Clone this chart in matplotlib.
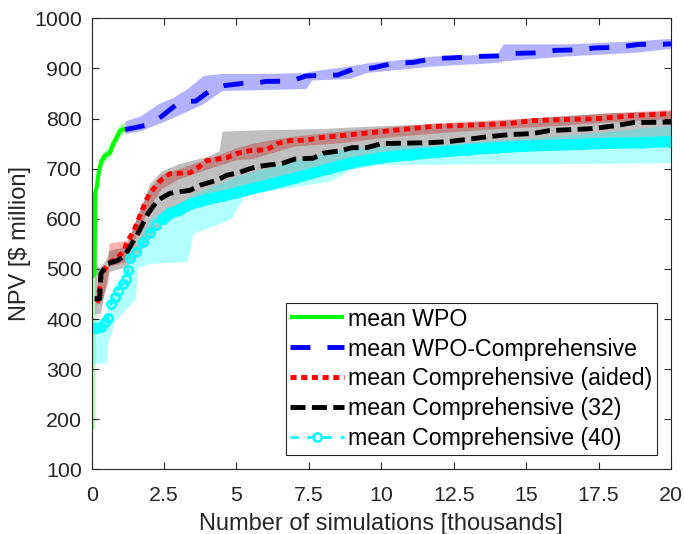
import matplotlib
matplotlib.use("Agg")
import matplotlib.pyplot as plt
import numpy as np

plt.rcParams['font.family'] = ['Liberation Sans', 'DejaVu Sans']
TXT = '#262626'

# ---- mean WPO ----
wpo_x = [0.00, 0.10, 0.12, 0.17, 0.25, 0.34, 0.46, 0.63, 0.74, 0.86, 0.98, 1.15]
wpo_mean = [483, 490, 650, 662, 695, 716, 726, 732, 750, 762, 776, 780]
wpo_lo = [180, 180, 635, 650, 680, 703, 715, 722, 738, 750, 765, 772]
wpo_hi = [500, 505, 665, 675, 708, 728, 738, 745, 760, 775, 790, 792]

# ---- mean WPO-Comprehensive ----
wc_x = [1.15, 1.5, 1.9, 2.2, 2.45, 2.75, 3.05, 3.6, 3.9, 4.2, 4.6, 5.2, 5.6, 6.0,
        6.9, 7.4, 8.5, 9.0, 9.7, 10.4, 11.1, 11.8, 12.4, 13.3, 14.0, 14.6, 15.3,
        16.0, 16.7, 17.4, 18.1, 18.9, 19.6, 20.0]
wc_mean = [778, 782, 787, 795, 806, 820, 833, 835, 848, 860, 866, 870, 870, 874,
           875, 885, 887, 898, 901, 910, 912, 920, 921, 924, 925, 930, 931,
           936, 937, 941, 942, 948, 948, 949]
wc_band_x = [1.15, 1.7, 2.3, 2.8, 3.3, 3.85, 4.5, 6.0, 7.4, 7.6, 8.9, 9.5, 11.8,
             14.0, 14.2, 16.4, 18.7, 20.0]
wc_lo = [770, 776, 790, 802, 815, 830, 856, 858, 860, 877, 880, 892, 905,
         912, 915, 925, 932, 940]
wc_hi = [795, 806, 830, 842, 860, 886, 890, 890, 892, 895, 905, 911, 925,
         929, 949, 949, 955, 960]

# ---- mean Comprehensive (aided) ----
ca_x = [0.15, 0.22, 0.32, 0.45, 0.56, 0.9, 1.1, 1.25, 1.45, 1.6, 1.88, 2.0, 2.36,
        2.7, 3.4, 3.67, 3.97, 4.67, 5.0, 5.46, 6.05, 6.4, 6.85, 7.4, 7.9, 8.6,
        10.0, 11.7, 14.4, 15.2, 17.5, 18.7, 20.0]
ca_mean = [440, 437, 483, 500, 511, 523, 535, 557, 575, 597, 637, 650, 676,
           690, 692, 702, 716, 722, 730, 736, 738, 750, 756, 757, 762, 766,
           774, 784, 790, 796, 800, 806, 810]
ca_band_x = [0.15, 0.3, 0.55, 0.6, 1.2, 1.3, 1.6, 2.0, 2.4, 3.0, 4.0, 5.0, 5.5,
             6.4, 7.0, 8.6, 10.0, 12.0, 14.0, 16.0, 18.0, 20.0]
ca_lo = [430, 432, 470, 505, 515, 535, 575, 625, 660, 680, 700, 718, 720,
         735, 745, 752, 762, 772, 780, 786, 794, 800]
ca_hi = [455, 500, 505, 552, 557, 565, 610, 660, 688, 700, 720, 742, 750,
         760, 765, 775, 782, 792, 798, 804, 812, 818]

# ---- mean Comprehensive (32) ----
c32_x = [0.1, 0.28, 0.32, 0.56, 0.9, 1.15, 1.6, 1.95, 2.28, 2.7, 3.4, 3.74, 4.32,
         4.67, 5.12, 5.46, 5.8, 6.6, 7.0, 7.65, 8.0, 8.6, 9.0, 9.5, 10.0, 11.7,
         12.3, 12.9, 13.7, 14.4, 15.2, 15.8, 17.3, 18.1, 18.7, 20.0]
c32_mean = [441, 441, 491, 511, 517, 527, 571, 611, 637, 651, 657, 667, 677,
            687, 693, 700, 705, 711, 719, 721, 731, 736, 742, 742, 750, 752,
            754, 758, 764, 768, 770, 776, 780, 786, 792, 793]
c32_band_x = [0.1, 0.3, 0.5, 0.6, 1.2, 1.6, 2.0, 2.4, 3.0, 4.0, 4.4, 4.5, 6.0,
              8.0, 8.5, 10.0, 12.0, 14.0, 16.0, 18.0, 20.0]
c32_lo = [410, 412, 470, 495, 505, 530, 560, 590, 610, 630, 640, 650, 670,
          690, 705, 718, 728, 738, 748, 758, 765]
c32_hi = [503, 505, 520, 537, 545, 610, 670, 695, 710, 725, 735, 775, 778,
          780, 782, 786, 790, 796, 805, 812, 815]

# ---- mean Comprehensive (40) ----
c40_x = [0.0, 0.1, 0.2, 0.32, 0.45, 0.56, 0.67, 0.8, 0.9, 1.08, 1.2, 1.25, 1.32,
         1.53, 1.77, 2.0, 2.23, 2.46, 2.7, 3.0, 3.4, 4.0, 4.5, 5.0, 5.9, 7.0,
         8.2, 9.0, 10.0, 11.0, 12.0, 13.0, 14.0, 15.0, 16.0, 17.0, 18.0, 19.0, 20.0]
c40_mean = [383, 383, 383, 384, 395, 403, 431, 445, 457, 471, 480, 497, 521,
            533, 553, 571, 587, 600, 611, 617, 629, 639, 645, 652, 665, 681,
            700, 712, 722, 728, 733, 738, 742, 745, 747, 749, 751, 752, 754]
c40_band_x = [0.0, 0.5, 0.55, 0.8, 1.15, 1.5, 1.6, 2.0, 3.3, 3.5, 4.8, 5.3,
              8.2, 9.0, 10.0, 12.0, 14.0, 16.0, 18.0, 20.0]
c40_lo = [312, 312, 350, 397, 417, 440, 503, 511, 515, 571, 600, 649,
          675, 700, 709, 709, 710, 710, 711, 712]
c40_hi = [400, 400, 420, 470, 495, 545, 555, 600, 640, 650, 680, 690,
          735, 742, 745, 748, 758, 765, 775, 787]

labels = ['mean WPO', 'mean WPO-Comprehensive', 'mean Comprehensive (aided)',
          'mean Comprehensive (32)', 'mean Comprehensive (40)']
x_ticks = [0, 2.5, 5, 7.5, 10, 12.5, 15, 17.5, 20]
x_ticklabels = ['0', '2.5', '5', '7.5', '10', '12.5', '15', '17.5', '20']
y_ticks = list(range(100, 1001, 100))

fig = plt.figure(figsize=(6.84, 5.34), dpi=100)
ax = fig.add_axes([0.134, 0.1208, 0.847, 0.8449])

LW = 3.5
handles = []

# green
h, = ax.plot(wpo_x, wpo_mean, color=(0, 1, 0), lw=3, solid_capstyle='butt')
ax.fill_between(wpo_x, wpo_lo, wpo_hi, color=(0, 1, 0), alpha=0.3, lw=0)
handles.append(h)

# blue
h, = ax.plot(wc_x, wc_mean, color=(0, 0, 1), lw=LW, linestyle=(0, (4.1, 3.5)),
             dash_capstyle='butt')
ax.fill_between(wc_band_x, wc_lo, wc_hi, color=(0, 0, 1), alpha=0.3, lw=0)
handles.append(h)

# red
h, = ax.plot(ca_x, ca_mean, color=(1, 0, 0), lw=LW, linestyle=(0, (1.25, 0.95)),
             dash_capstyle='butt')
ax.fill_between(ca_band_x, ca_lo, ca_hi, color=(1, 0, 0), alpha=0.3, lw=0)
handles.append(h)

# black
h, = ax.plot(c32_x, c32_mean, color=(0, 0, 0), lw=LW, linestyle=(0, (3.1, 1.3)),
             dash_capstyle='butt')
ax.fill_between(c32_band_x, c32_lo, c32_hi, color=(0, 0, 0), alpha=0.25, lw=0)
handles.append(h)

# cyan: dense circle markers merge into a thick stroke once the curve flattens
c40_x_arr = np.asarray(c40_x)
c40_y_arr = np.asarray(c40_mean)
flat = c40_x_arr >= 2.46
ax.plot(c40_x_arr[flat], c40_y_arr[flat], color=(0, 1, 1), lw=8,
        solid_capstyle='round')
h, = ax.plot(c40_x, c40_mean, color=(0, 1, 1), lw=2, linestyle=(0, (3, 3)),
             marker='o', markersize=6, markerfacecolor='none', markeredgewidth=1.8)
ax.fill_between(c40_band_x, c40_lo, c40_hi, color=(0, 1, 1), alpha=0.3, lw=0)
handles.append(h)

ax.set_xlim(0, 20)
ax.set_ylim(100, 1000)
ax.set_xticks(x_ticks)
ax.set_xticklabels(x_ticklabels)
ax.set_yticks(y_ticks)
ax.tick_params(direction='in', length=5, width=0.8, color=TXT, labelcolor=TXT,
               labelsize=15.4, top=True, right=True)
ax.tick_params(axis='x', pad=12)
ax.tick_params(axis='y', pad=7)
for s in ax.spines.values():
    s.set_color(TXT)
    s.set_linewidth(0.8)

ax.set_xlabel('Number of simulations [thousands]', fontsize=17, color=TXT, labelpad=6)
ax.set_ylabel('NPV [$ million]', fontsize=17, color=TXT, labelpad=2)

leg = ax.legend(handles, labels, loc='lower right', bbox_to_anchor=(0.976, 0.032),
                borderaxespad=0, fontsize=16.7, handlelength=2.3, handletextpad=0.2,
                borderpad=0.2, labelspacing=0.3, numpoints=1, fancybox=False,
                framealpha=1, edgecolor=TXT)
leg.get_frame().set_linewidth(0.8)
for t in leg.get_texts():
    t.set_color('black')

fig.savefig('out.png', dpi=100)
